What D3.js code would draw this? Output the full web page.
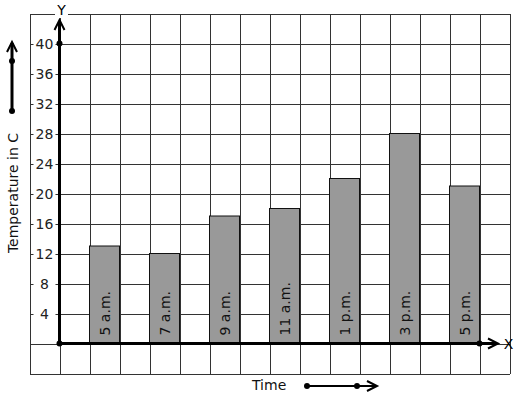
<!DOCTYPE html>
<html>
<head>
<meta charset="utf-8">
<script src="https://cdn.jsdelivr.net/npm/d3@7"></script>
<style>
  body { margin: 0; background: #fff; }
  svg { display: block; font-family: "DejaVu Sans", sans-serif; }
  .grid line { stroke: #333; stroke-width: 1; shape-rendering: crispEdges; }
  .grid path { display: none; }
</style>
</head>
<body>
<div id="chart"></div>
<script>
// data
var times = ["5 a.m.", "7 a.m.", "9 a.m.", "11 a.m.", "1 p.m.", "3 p.m.", "5 p.m."];
var temps = [13, 12, 17, 18, 22, 28, 21];
var yTicks = [4, 8, 12, 16, 20, 24, 28, 32, 36, 40];

var W = 517, H = 399;

var svg = d3.select("#chart").append("svg")
    .attr("width", W)
    .attr("height", H);

// grid units: one column per unit, y axis sits at column 0
var x = d3.scaleLinear().domain([-1, 15]).range([29.5, 509.5]);
var y = d3.scaleLinear().domain([-4, 44]).range([373.5, 13.5]);

// vertical grid lines
svg.append("g")
    .attr("class", "grid")
    .attr("transform", "translate(0," + y(-4) + ")")
    .call(d3.axisBottom(x).tickValues(d3.range(-1, 16)).tickSize(y(44) - y(-4)).tickFormat(""));

// horizontal grid lines
svg.append("g")
    .attr("class", "grid")
    .attr("transform", "translate(" + x(-1) + ",0)")
    .call(d3.axisRight(y).tickValues(d3.range(-4, 45, 4)).tickSize(x(15) - x(-1)).tickFormat(""));

// bars
svg.append("g")
    .selectAll("rect")
    .data(temps)
    .enter()
    .append("rect")
    .attr("x", function (d, i) { return x(2 * i + 1); })
    .attr("y", function (d) { return y(d); })
    .attr("width", x(1) - x(0))
    .attr("height", function (d) { return y(0) - y(d); })
    .style("fill", "#999999")
    .style("stroke", "#111")
    .style("stroke-width", 1);

// bar labels
svg.append("g")
    .selectAll("text")
    .data(times)
    .enter()
    .append("text")
    .attr("transform", function (d, i) {
        return "translate(" + (x(2 * i + 1.5) + 5) + "," + (y(0) - 8) + ") rotate(-90)";
    })
    .style("font-size", "14px")
    .style("fill", "#111")
    .text(function (d) { return d; });

// y tick labels with white box over the grid line
var lab = svg.append("g").selectAll("g")
    .data(yTicks)
    .enter()
    .append("g")
    .attr("transform", function (d) { return "translate(" + x(-0.5) + "," + y(d) + ")"; });
lab.append("rect")
    .attr("x", -11).attr("y", -8).attr("width", 22).attr("height", 16)
    .style("fill", "#fff");
lab.append("text")
    .attr("text-anchor", "middle")
    .attr("dy", "0.36em")
    .style("font-size", "14px")
    .style("fill", "#222")
    .text(function (d) { return d; });

// axes
function chevron(g, px, py, dir) {
    var s = 7;
    var pts = dir === "up"
        ? [[px - 5, py + s + 3], [px, py], [px + 5, py + s + 3]]
        : [[px - s - 3, py - 5], [px, py], [px - s - 3, py + 5]];
    g.append("path")
        .attr("d", d3.line()(pts))
        .style("fill", "none")
        .style("stroke", "#000")
        .style("stroke-width", 2);
}
function dot(g, px, py) {
    g.append("circle").attr("cx", px).attr("cy", py).attr("r", 3).style("fill", "#000");
}

var ax = svg.append("g");
ax.append("line")
    .attr("x1", x(0)).attr("y1", y(0)).attr("x2", x(0)).attr("y2", 21)
    .style("stroke", "#000").style("stroke-width", 3);
ax.append("line")
    .attr("x1", x(0)).attr("y1", y(0)).attr("x2", 497).attr("y2", y(0))
    .style("stroke", "#000").style("stroke-width", 3);
chevron(ax, x(0), 20, "up");
chevron(ax, 498, y(0), "right");
dot(ax, x(0), y(0));
dot(ax, x(0), y(40));
dot(ax, x(14), y(0));

// axis letters
svg.append("rect").attr("x", 55).attr("y", 4).attr("width", 13).attr("height", 14).style("fill", "#fff");
svg.append("text").attr("x", 61.5).attr("y", 15).attr("text-anchor", "middle")
    .style("font-size", "14px").text("Y");
svg.append("text").attr("x", 508.5).attr("y", y(0) + 5).attr("text-anchor", "middle")
    .style("font-size", "14px").text("X");

// y title and its arrow
svg.append("text")
    .attr("transform", "translate(18,193) rotate(-90)")
    .attr("text-anchor", "middle")
    .style("font-size", "14px")
    .style("fill", "#111")
    .text("Temperature in C");
var la = svg.append("g");
la.append("line").attr("x1", 12).attr("y1", 111).attr("x2", 12).attr("y2", 43)
    .style("stroke", "#000").style("stroke-width", 3);
chevron(la, 12, 42, "up");
dot(la, 12, 61);
dot(la, 12, 111);

// x title and its arrow
svg.append("text")
    .attr("x", 252).attr("y", 390)
    .style("font-size", "14px")
    .style("fill", "#111")
    .text("Time");
var ta = svg.append("g");
ta.append("line").attr("x1", 307).attr("y1", 386).attr("x2", 376).attr("y2", 386)
    .style("stroke", "#000").style("stroke-width", 2);
chevron(ta, 377, 386, "right");
dot(ta, 307, 386);
dot(ta, 357, 386);
</script>
</body>
</html>
